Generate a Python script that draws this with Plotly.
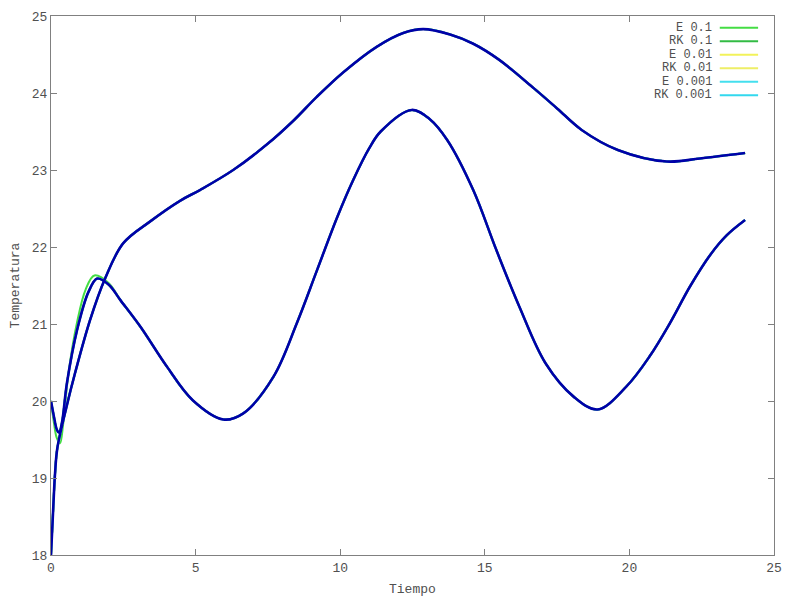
import plotly.graph_objects as go

# curva que parte de 20
tiempo_a = [0, 0.1, 0.2, 0.28, 0.38, 0.55, 0.9, 1.3, 1.6, 2.0, 2.4, 3.1, 4.0, 4.9, 5.96,
            6.65, 7.7, 8.5, 9.2, 9.9, 10.45, 11.0, 11.4, 12.47, 13.1, 13.7, 14.6, 15.4,
            16.2, 17.1, 18.06, 18.9, 19.9, 20.7, 21.4, 22.1, 22.8, 23.36, 24.0]
temp_a = [20.0, 19.8, 19.63, 19.59, 19.72, 20.23, 20.92, 21.42, 21.59, 21.51, 21.31, 20.96,
          20.45, 20.01, 19.76, 19.84, 20.32, 21.01, 21.7, 22.39, 22.87, 23.28, 23.5, 23.78,
          23.66, 23.39, 22.74, 21.96, 21.22, 20.49, 20.06, 19.89, 20.19, 20.58, 21.01, 21.49,
          21.9, 22.15, 22.35]

# misma curva con Euler h=0.1 (solo se separa al principio)
tiempo_a_e01 = [0, 0.1, 0.2, 0.31, 0.42, 0.6, 0.9, 1.2, 1.5, 2.0, 2.4, 3.1, 4.0, 4.9, 5.96,
                6.65, 7.7, 8.5, 9.2, 9.9, 10.45, 11.0, 11.4, 12.47, 13.1, 13.7, 14.6, 15.4,
                16.2, 17.1, 18.06, 18.9, 19.9, 20.7, 21.4, 22.1, 22.8, 23.36, 24.0]
temp_a_e01 = [20.0, 19.72, 19.52, 19.45, 19.7, 20.35, 21.02, 21.45, 21.63, 21.53, 21.31,
              20.96, 20.45, 20.01, 19.76, 19.84, 20.32, 21.01, 21.7, 22.39, 22.87, 23.28, 23.5,
              23.78, 23.66, 23.39, 22.74, 21.96, 21.22, 20.49, 20.06, 19.89, 20.19, 20.58,
              21.01, 21.49, 21.9, 22.15, 22.35]

# curva que parte de 18
tiempo_b = [0, 0.08, 0.14, 0.22, 0.54, 0.83, 1.35, 1.87, 2.5, 3.42, 4.46, 5.15, 6.3, 7.46,
            8.38, 9.19, 10.11, 11.26, 12.18, 12.87, 13.8, 14.6, 15.5, 16.7, 17.5, 18.35,
            19.6, 21.29, 22.44, 24.0]
temp_b = [18.0, 18.63, 19.06, 19.39, 19.93, 20.36, 21.05, 21.59, 22.05, 22.33, 22.6, 22.74,
          23.0, 23.33, 23.64, 23.95, 24.27, 24.6, 24.78, 24.83, 24.76, 24.64, 24.43, 24.06,
          23.8, 23.52, 23.26, 23.11, 23.15, 23.22]

series = ["E 0.1", "RK 0.1", "E 0.01", "RK 0.01", "E 0.001", "RK 0.001"]
colores = ["#44dd44", "#33bb44", "#f2f25a", "#eeee66", "#44dfee", "#33d8ee"]

font = dict(family="Liberation Mono, Courier New, monospace", size=13, color="#505050")
font_leyenda = dict(family="Liberation Mono, Courier New, monospace", size=12,
                    color="#505050")

fig = go.Figure()

for nombre, color in zip(series, colores):
    if nombre == "E 0.1":
        ta, ya = tiempo_a_e01, temp_a_e01
    else:
        ta, ya = tiempo_a, temp_a
    fig.add_trace(go.Scatter(x=ta, y=ya, mode="lines", name=nombre, showlegend=False,
                             line=dict(color=color, width=2, shape="spline", smoothing=1.0)))
    fig.add_trace(go.Scatter(x=tiempo_b, y=temp_b, mode="lines", name=nombre, showlegend=False,
                             line=dict(color=color, width=2, shape="spline", smoothing=1.0)))

# curvas azules encima
fig.add_trace(go.Scatter(x=tiempo_a, y=temp_a, mode="lines", showlegend=False,
                         line=dict(color="#0000a8", width=2.6, shape="spline", smoothing=1.0)))
fig.add_trace(go.Scatter(x=tiempo_b, y=temp_b, mode="lines", showlegend=False,
                         line=dict(color="#0000a8", width=2.6, shape="spline", smoothing=1.0)))

# leyenda estilo gnuplot: texto a la izquierda, linea a la derecha
for i, (nombre, color) in enumerate(zip(series, colores)):
    yy = 0.978 - i * 0.025
    fig.add_annotation(x=0.9156, y=yy, xref="paper", yref="paper", text=nombre,
                       showarrow=False, xanchor="right", yanchor="middle", font=font_leyenda,
                       borderpad=0)
    fig.add_shape(type="line", xref="paper", yref="paper", x0=0.925, x1=0.978,
                  y0=yy, y1=yy, line=dict(color=color, width=2))

# titulo del eje x como anotacion para poder bajarlo
fig.add_annotation(x=0.5, y=-0.064, xref="paper", yref="paper", text="Tiempo",
                   showarrow=False, xanchor="center", yanchor="middle", font=font)

axis_common = dict(showgrid=False, zeroline=False, showline=True, linecolor="#808080",
                   linewidth=1, mirror="ticks", ticks="inside", ticklen=6,
                   tickcolor="#808080", tickfont=font, automargin=False)

fig.update_xaxes(range=[0, 25], dtick=5, **axis_common)
fig.update_yaxes(range=[18, 25], dtick=1, title=dict(text="Temperatura", font=font, standoff=10),
                 **axis_common)

fig.update_layout(width=784, height=592, plot_bgcolor="white", paper_bgcolor="white",
                  margin=dict(l=43, r=18, t=8, b=45), font=font)

fig.write_html("out.html")
